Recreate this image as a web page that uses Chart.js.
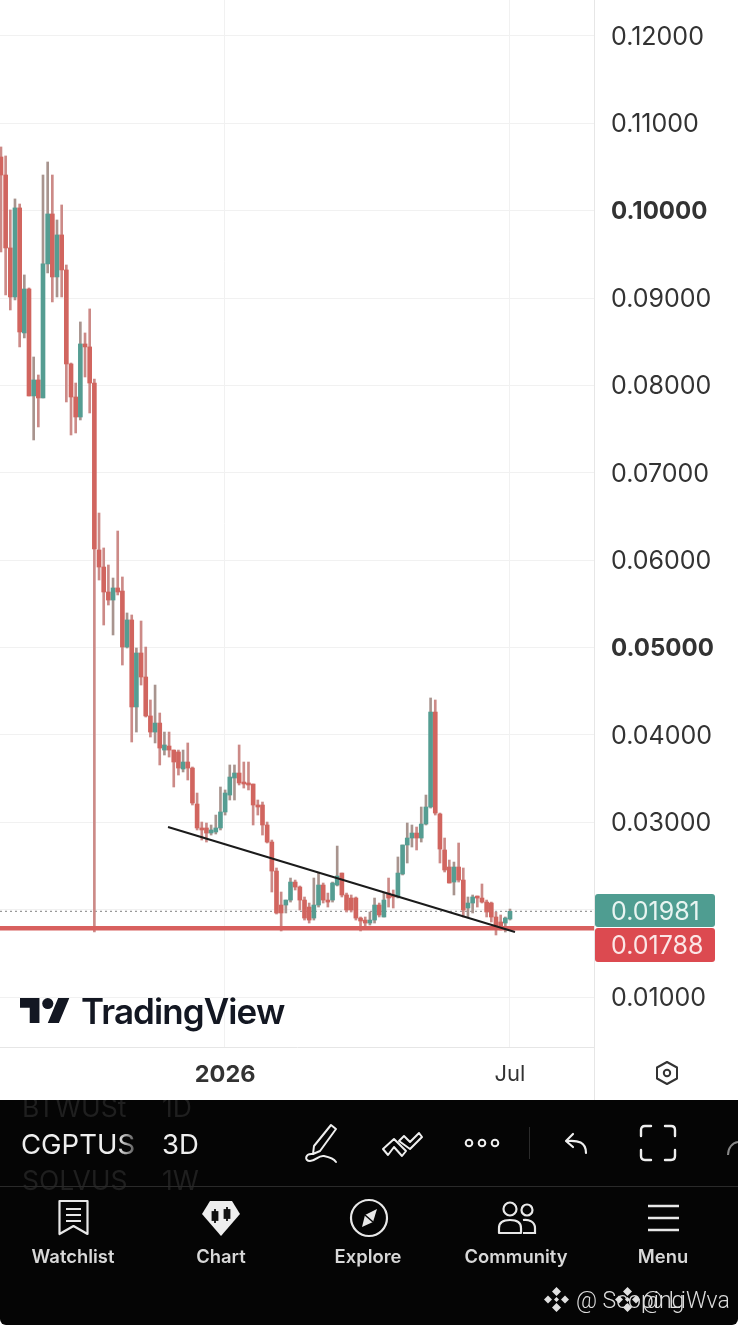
<!DOCTYPE html>
<html><head><meta charset="utf-8">
<script src="https://cdn.jsdelivr.net/npm/chart.js@4"></script>
<style>
html,body{margin:0;padding:0;background:#fff;width:738px;height:1325px;overflow:hidden;font-family:Inter,"Noto Sans",sans-serif}
#wrap{position:relative;width:738px;height:1325px;overflow:hidden}
canvas{position:absolute;left:0;top:0;filter:blur(.6px)}
.abs{position:absolute;white-space:nowrap}
#panel{position:absolute;left:0;top:1100px;width:738px;height:225px;background:#050505;overflow:hidden;filter:blur(.4px);border-bottom-left-radius:6px;border-bottom-right-radius:6px}
#panel .abs{line-height:1}
.nav{color:#d8d8d8;font-weight:600;font-size:18.4px;transform:translateX(-50%);top:147px}
.sym{font-size:27.5px;color:#eee;font-weight:400}
.dim{font-size:26.5px;color:#1f1f1f;font-weight:400}
svg{position:absolute;overflow:visible}
</style></head><body>
<div id="wrap">
<canvas id="c" width="738" height="1100"></canvas>
<svg style="left:20px;top:997px" width="50" height="27" viewBox="0 4 36 18"><path fill="#131722" d="M14 22H7V11H0V4h14v18zM28 22h-8l7.5-18h8L28 22z"/><circle cx="20" cy="8" r="4" fill="#131722"/></svg>
<div class="abs" style="left:81px;top:990px;font-size:35px;font-weight:600;color:#131722;letter-spacing:-.9px;line-height:42px;filter:blur(.4px)">TradingView</div>
<svg style="left:654px;top:1060px" width="26" height="26" viewBox="0 0 26 26" fill="none" stroke="#333" stroke-width="2"><path d="M13 2 L23 7.5 V18.5 L13 24 L3 18.5 V7.5 Z" stroke-linejoin="round"/><circle cx="13" cy="13" r="3.2"/></svg>
<div id="panel">
  <div class="abs dim" style="left:22px;top:-6px">BTWUSt</div><div class="abs dim" style="left:162px;top:-6px">1D</div>
  <div class="abs sym" style="left:21px;top:31px;-webkit-mask-image:linear-gradient(90deg,#000 85%,rgba(0,0,0,.35) 100%);mask-image:linear-gradient(90deg,#000 85%,rgba(0,0,0,.35) 100%)">CGPTUS</div><div class="abs sym" style="left:162px;top:31px">3D</div>
  <div class="abs dim" style="left:22px;top:67px">SOLVUS</div><div class="abs dim" style="left:162px;top:67px">1W</div>
  <div class="abs" style="left:529px;top:27px;width:1px;height:32px;background:#2b2b2b"></div>
  <div class="abs" style="left:0;top:86px;width:738px;height:1px;background:#2a2a2a"></div>
  <svg style="left:303px;top:22px" width="38" height="42" viewBox="0 0 38 42" fill="none" stroke="#eee" stroke-width="2"><path d="M28 3 L33 7 L17 29 L10 32 L11 24 Z" stroke-linejoin="round"/><path d="M10 32 C2 31 1 39 7 39 C13 39 15 33 21 34 C26 35 31 37 33 40" stroke-linecap="round"/></svg>
  <svg style="left:382px;top:30px" width="42" height="28" viewBox="0 0 42 28" fill="none" stroke="#eee" stroke-width="2" stroke-linejoin="round"><path d="M1 19 L12 9 L24 21 L20 26 L12 17 L6 25 Z"/><path d="M17 11 L22 6 L28 12 L37 3 L40 7 L28 19 Z"/></svg>
  <svg style="left:463px;top:36px" width="38" height="14" viewBox="0 0 38 14" fill="none" stroke="#eee" stroke-width="2"><circle cx="6" cy="7" r="3.3"/><circle cx="19" cy="7" r="3.3"/><circle cx="32" cy="7" r="3.3"/></svg>
  <svg style="left:564px;top:32px" width="26" height="24" viewBox="0 0 26 24" fill="none" stroke="#eee" stroke-width="2.2" stroke-linecap="round" stroke-linejoin="round"><path d="M9 2 L2 9 L9 15"/><path d="M3 9 C14 8 22 10 22 21"/></svg>
  <svg style="left:640px;top:25px" width="36" height="36" viewBox="0 0 36 36" fill="none" stroke="#eee" stroke-width="2.4" stroke-linecap="round"><path d="M1 11 V5 Q1 1 5 1 H11 M25 1 H31 Q35 1 35 5 V11 M35 25 V31 Q35 35 31 35 H25 M11 35 H5 Q1 35 1 31 V25"/></svg>
  <svg style="left:726px;top:40px" width="14" height="16" viewBox="0 0 14 16" fill="none" stroke="#888" stroke-width="2"><path d="M2 15 C2 8 6 3 12 2"/></svg>
  <svg style="left:58px;top:100px" width="31" height="36" viewBox="0 0 31 36" fill="none" stroke="#e8e8e8" stroke-width="2.2"><path d="M1.5 1 H29.5 V34 L15.5 26 L1.5 34 Z" stroke-linejoin="round"/><path d="M8 9 H23 M8 15 H23 M8 21 H23"/></svg>
  <svg style="left:201px;top:100px" width="40" height="36" viewBox="0 0 40 36"><path fill="#eee" d="M9 1 H31 L39 14 L20 36 L1 14 Z"/><g stroke="#111" stroke-width="1.8" fill="#111"><path d="M14 9 V23"/><rect x="11.5" y="12" width="5" height="8"/><path d="M26 7 V21"/><rect x="23.5" y="10" width="5" height="8"/></g></svg>
  <svg style="left:349px;top:98px" width="40" height="40" viewBox="0 0 40 40" fill="none" stroke="#e8e8e8" stroke-width="2.2"><circle cx="20" cy="20" r="18"/><path d="M28 11 L24 24 L13 29 L16 17 Z" fill="#e8e8e8" stroke="none"/><path d="M16 17 L24 24" stroke="#050505" stroke-width="1.5"/></svg>
  <svg style="left:497px;top:101px" width="40" height="34" viewBox="0 0 40 34" fill="none" stroke="#e8e8e8" stroke-width="2.2"><circle cx="13" cy="8" r="6.5"/><circle cx="30" cy="9" r="5.5"/><path d="M2 32 V27 C2 21 7 19 13 19 C19 19 24 21 24 27 V32 Z" stroke-linejoin="round"/><path d="M26 19 C32 18 38 21 38 27 V32 H26"/></svg>
  <svg style="left:647px;top:104px" width="33" height="28" viewBox="0 0 33 28" stroke="#e8e8e8" stroke-width="2.6"><path d="M1 2 H32 M1 14 H32 M1 26 H32"/></svg>
  <div class="abs nav" style="left:73px">Watchlist</div>
  <div class="abs nav" style="left:221px">Chart</div>
  <div class="abs nav" style="left:368px">Explore</div>
  <div class="abs nav" style="left:516px">Community</div>
  <div class="abs nav" style="left:663px">Menu</div>
  <svg style="left:543px;top:186px" width="27" height="27" viewBox="0 0 27 27" fill="#e0e0e0"><path d="M13.5 1 L18 5.5 L13.5 10 L9 5.5 Z M5 9.5 L9 13.5 L5 17.5 L1 13.5 Z M22 9.5 L26 13.5 L22 17.5 L18 13.5 Z M13.5 17 L18 21.5 L13.5 26 L9 21.5 Z M13.5 11 L16 13.5 L13.5 16 L11 13.5 Z"/></svg>
  <svg style="left:614px;top:186px" width="27" height="27" viewBox="0 0 27 27" fill="#e0e0e0"><path d="M13.5 1 L18 5.5 L13.5 10 L9 5.5 Z M5 9.5 L9 13.5 L5 17.5 L1 13.5 Z M22 9.5 L26 13.5 L22 17.5 L18 13.5 Z M13.5 17 L18 21.5 L13.5 26 L9 21.5 Z M13.5 11 L16 13.5 L13.5 16 L11 13.5 Z"/></svg>
  <div class="abs" style="left:576px;top:187px;font:300 23px Roboto,sans-serif;color:#ddd">@ Scoping</div>
  <div class="abs" style="left:642px;top:187px;font:300 23px Roboto,sans-serif;color:#ddd">@ LiWva</div>
</div>
</div>
<script>
const opens=[.10615,.10409,.09574,.09013,.10032,.08601,.09104,.07880,.08063,.07857,.09391,.09963,.09242,.09723,.09322,.08246,.07868,.07639,.08475,.08441,.08028,.06117,.05922,.05636,.05544,.05682,.05647,.05006,.05316,.04320,.04938,.04663,.04217,.04033,.04136,.03827,.03873,.03827,.03805,.03610,.03690,.03621,.03209,.02935,.02935,.02877,.02889,.02935,.03118,.03312,.03507,.03564,.03450,.03450,.03438,.03198,.03198,.02969,.02774,.02442,.02053,.02053,.02110,.02316,.02259,.02110,.02030,.01904,.02053,.02282,.02110,.02110,.02282,.02419,.02168,.02133,.02133,.01904,.01881,.01847,.01881,.02053,.01916,.02190,.02168,.02145,.02408,.02740,.02820,.02877,.02820,.02980,.03175,.04262,.03095,.02683,.02488,.02316,.02488,.02339,.02019,.02076,.02145,.02133,.02087,.02076,.01916,.01859,.01847,.01893];
const closes=[.10409,.09574,.09013,.10032,.08612,.09104,.07880,.08063,.07857,.09391,.09963,.09242,.09723,.09322,.08246,.07868,.07639,.08475,.08441,.08028,.06128,.05922,.05636,.05544,.05682,.05636,.05006,.05316,.04320,.04938,.04663,.04217,.04033,.04136,.03850,.03885,.03827,.03690,.03621,.03690,.03621,.03221,.02935,.02912,.02877,.02912,.02935,.03118,.03335,.03518,.03564,.03450,.03438,.03427,.03198,.03175,.02969,.02774,.02442,.01962,.01962,.02110,.02316,.02259,.02110,.01904,.01881,.02053,.02282,.02110,.02087,.02305,.02385,.02168,.01996,.01996,.01904,.01870,.01847,.01881,.02053,.01939,.02110,.02133,.02145,.02419,.02740,.02820,.02877,.02820,.02980,.03175,.04262,.03106,.02694,.02454,.02305,.02488,.02339,.01996,.02076,.02145,.02133,.02087,.01973,.01916,.01801,.01801,.01904,.01981];
const highs=[.10730,.10627,.10009,.10135,.10077,.09265,.09116,.08326,.08120,.10409,.10558,.10409,.09894,.10066,.09379,.08257,.08028,.08727,.08601,.08876,.08074,.06540,.06140,.05945,.05796,.06334,.05808,.05396,.05373,.04995,.05304,.05006,.04400,.04571,.04251,.04033,.04033,.03827,.03827,.03827,.03908,.03633,.03335,.03003,.02992,.02969,.03083,.03404,.03370,.03656,.03656,.03885,.03690,.03690,.03438,.03255,.03232,.03003,.02797,.02477,.02202,.02110,.02362,.02339,.02271,.02145,.02076,.02362,.02419,.02305,.02190,.02316,.02728,.02419,.02190,.02168,.02145,.01916,.01916,.01973,.02133,.02076,.02190,.02362,.02225,.02603,.02740,.02992,.02969,.02946,.03175,.03312,.04423,.04400,.03106,.02820,.02568,.02545,.02763,.02477,.02145,.02168,.02156,.02294,.02110,.02087,.01973,.01939,.01916,.02007];
const lows=[.09528,.09036,.08864,.08979,.08441,.08544,.07880,.07376,.07525,.07857,.09288,.08956,.09013,.09013,.07811,.07433,.07456,.07605,.08097,.07685,.01744,.05773,.05258,.05487,.05144,.05602,.04800,.04995,.03919,.04033,.04571,.04205,.03976,.03908,.03656,.03770,.03747,.03404,.03541,.03576,.03484,.03198,.02912,.02797,.02774,.02854,.02866,.02912,.03083,.03255,.03255,.03427,.03392,.03370,.02969,.03083,.02854,.02763,.02202,.01950,.01756,.01962,.02087,.02225,.01996,.01881,.01847,.01881,.02030,.02076,.02030,.02087,.02271,.02145,.01973,.01973,.01881,.01756,.01801,.01824,.01847,.01916,.01916,.02030,.02019,.02133,.02397,.02534,.02717,.02683,.02774,.02969,.03163,.03083,.02534,.02431,.02305,.02168,.02316,.01916,.01916,.01962,.02030,.02076,.01916,.01859,.01710,.01767,.01744,.01881];
const priceTicks=[.01,.02,.03,.04,.05,.06,.07,.08,.09,.10,.11,.12];
const boldPrices=[.05,.10];
const timeTicks=[48,109];
const timeLabels=['2026','Jul'];
const lastPrice=.01981;
const alertPrice=.01788;
const trendX=[35.77,110.07];
const trendY=[.02946,.01744];

const UP='#559d92',DOWN='#d1655f',UPW='#a8948e',DOWNW='#cc8a87';
const idx=opens.map((_,i)=>i);
const isUp=i=>closes[i]>=opens[i];
const XMIN=-0.208,XMAX=126.99;
const vgrid={id:'vgrid',beforeDatasetsDraw(ch){
  const c=ch.ctx,x=ch.scales.x,a=ch.chartArea;
  c.save();c.strokeStyle='#f1f1f1';c.lineWidth=1;
  timeTicks.forEach(v=>{const p=Math.round(x.getPixelForValue(v))-.5;c.beginPath();c.moveTo(p,a.top);c.lineTo(p,a.bottom);c.stroke();});
  c.restore();
}};
const tags={id:'tags',afterDraw(ch){
  const c=ch.ctx,y=ch.scales.y,x0=ch.chartArea.right+1;
  const gy=Math.round(y.getPixelForValue(lastPrice));
  const draw=(top,h,bg,fg,t)=>{c.fillStyle=bg;c.beginPath();c.roundRect(x0,top,120,h,3);c.fill();
    c.fillStyle=fg;c.font='400 25px Inter';c.textAlign='left';c.textBaseline='middle';c.fillText(t,611,top+h/2+1.5);};
  draw(gy-17,33,'#4f9d91','#e8f4f1',lastPrice.toFixed(5));
  draw(gy+17,34,'#dc4a50','#fbe6e6',alertPrice.toFixed(5));
  c.save();c.strokeStyle='#e6e6e6';c.beginPath();c.moveTo(x0-.5,ch.chartArea.bottom);c.lineTo(x0-.5,1100);c.stroke();c.restore();
}};
new Chart(document.getElementById('c'),{
  type:'bar',
  plugins:[vgrid,tags],
  data:{datasets:[
    {type:'line',order:0,data:trendX.map((x,i)=>({x,y:trendY[i]})),borderColor:'#1b1b1b',borderWidth:2,pointRadius:0},
    {type:'line',order:1,data:[{x:XMIN,y:alertPrice},{x:XMAX,y:alertPrice}],borderColor:'#d8605f',borderWidth:4.5,pointRadius:0},
    {order:2,data:idx.map(i=>({x:i,y:[Math.min(opens[i],closes[i]),Math.max(opens[i],closes[i])]})),
      backgroundColor:idx.map(i=>isUp(i)?UP:DOWN),barThickness:4,minBarLength:2,grouped:false},
    {order:3,data:idx.map(i=>({x:i,y:[lows[i],highs[i]]})),
      backgroundColor:idx.map(i=>isUp(i)?UPW:DOWNW),barThickness:2,grouped:false},
    {type:'line',order:4,data:[{x:XMIN,y:lastPrice},{x:XMAX,y:lastPrice}],borderColor:'#999',borderWidth:1.3,borderDash:[2,3],pointRadius:0}
  ]},
  options:{
    responsive:false,animation:false,devicePixelRatio:1,
    layout:{padding:0},
    plugins:{legend:{display:false},tooltip:{enabled:false}},
    scales:{
      x:{type:'linear',min:XMIN,max:XMAX,offset:false,
        afterBuildTicks(s){s.ticks=timeTicks.map(v=>({value:v}));},
        afterFit(s){s.height=53;s.paddingLeft=0;s.paddingRight=0;},
        grid:{display:false,drawTicks:false},
        border:{display:true,color:'#e6e6e6',width:1},
        ticks:{autoSkip:false,maxRotation:0,padding:14,color:'#333',
          callback:v=>timeLabels[timeTicks.indexOf(v)]??'',
          font:c=>{const b=c.tick&&c.tick.value===timeTicks[0];return {family:'Inter',size:b?23.5:22,weight:b?'700':'400'};}}
      },
      y:{type:'linear',position:'right',min:.00428,max:.12412,
        afterBuildTicks(s){s.ticks=priceTicks.map(v=>({value:v}));},
        afterFit(s){s.width=144;s.paddingTop=0;s.paddingBottom=0;},
        grid:{color:'#f1f1f1',drawTicks:false},
        border:{color:'#e6e6e6',width:1},
        ticks:{autoSkip:false,padding:17,color:'#333',labelOffset:1.5,
          callback:v=>v.toFixed(5),
          font:c=>{const b=c.tick&&boldPrices.includes(c.tick.value);return {family:'Inter',size:b?24:25,weight:b?'700':'400'};}}
      }
    }
  }
});
</script>
</body></html>
